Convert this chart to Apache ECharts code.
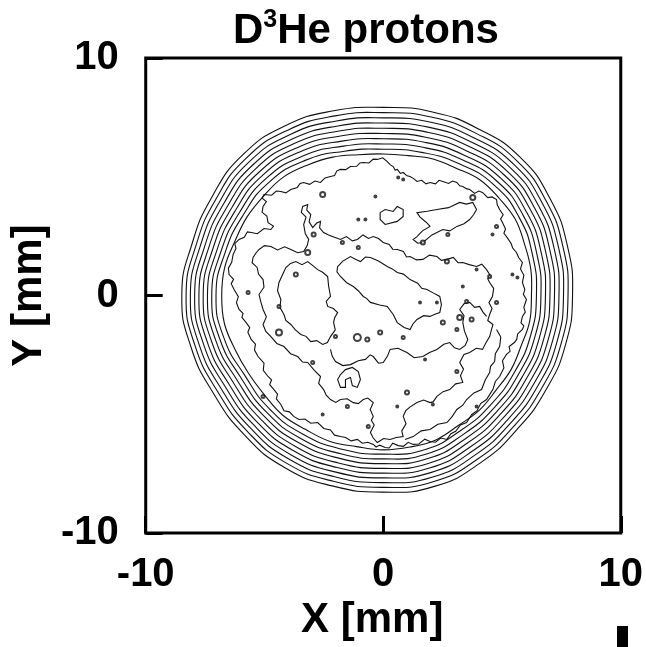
<!DOCTYPE html>
<html><head><meta charset="utf-8">
<script src="https://cdn.jsdelivr.net/npm/echarts@6/dist/echarts.min.js"></script>
<style>html,body{margin:0;padding:0;background:#fff}#c{width:646px;height:647px}</style>
</head><body><div id="c"></div>
<script>
// ---- axis ticks (mm) ----
const xTickValues = [-10, 0, 10];
const yTickValues = [-10, 0, 10];

// ---- outer smooth contour rings: radius (mm) read at these angles (deg) ----
const ringAngles = [0,15,30,45,60,75,90,105,120,135,150,165,180,195,210,225,240,255,270,285,300,315,330,345];
const ring0 = [7.97,8.03,8.12,8.19,8.08,8.00,7.92,8.05,8.25,8.37,8.32,8.34,8.48,8.38,8.25,8.28,8.35,8.30,8.28,8.32,8.15,7.97,7.92,7.95];
const ring1 = [7.78,7.84,7.93,7.99,7.87,7.78,7.70,7.83,8.04,8.17,8.13,8.16,8.30,8.20,8.06,8.09,8.15,8.10,8.08,8.12,7.95,7.78,7.73,7.76];
const ring2 = [7.59,7.65,7.74,7.79,7.66,7.56,7.48,7.61,7.83,7.97,7.94,7.98,8.12,8.02,7.87,7.90,7.95,7.90,7.88,7.92,7.75,7.59,7.54,7.57];
const ring3 = [7.40,7.46,7.55,7.59,7.45,7.34,7.26,7.39,7.62,7.77,7.75,7.80,7.94,7.84,7.68,7.71,7.75,7.70,7.68,7.72,7.55,7.40,7.35,7.38];
const ring4 = [7.21,7.27,7.36,7.39,7.24,7.12,7.04,7.17,7.41,7.57,7.56,7.62,7.76,7.66,7.49,7.52,7.55,7.50,7.48,7.52,7.35,7.21,7.16,7.19];
const ring5 = [7.02,7.08,7.17,7.19,7.03,6.90,6.82,6.95,7.20,7.37,7.37,7.44,7.58,7.48,7.30,7.33,7.35,7.30,7.28,7.32,7.15,7.02,6.97,7.00];
const ring6 = [6.83,6.89,6.98,6.99,6.82,6.68,6.60,6.73,6.99,7.17,7.18,7.26,7.40,7.30,7.11,7.14,7.15,7.10,7.08,7.12,6.95,6.83,6.78,6.81];
const ring7 = [6.64,6.70,6.79,6.79,6.61,6.46,6.38,6.51,6.78,6.97,6.99,7.08,7.22,7.12,6.92,6.95,6.95,6.90,6.88,6.92,6.75,6.64,6.59,6.62];
const ring8 = [6.45,6.51,6.60,6.59,6.40,6.24,6.16,6.29,6.57,6.77,6.80,6.90,7.04,6.94,6.73,6.76,6.75,6.70,6.68,6.72,6.55,6.45,6.40,6.43];

// slightly wavy innermost ring, read every 10 deg
const ring9Angles = [0,10,20,30,40,50,60,70,80,90,100,110,120,130,140,150,160,170,180,190,200,210,220,230,240,250,260,270,280,290,300,310,320,330,340,350];
const ring9 = [6.24,6.31,6.33,6.42,6.37,6.35,6.18,6.12,5.98,5.96,6.02,6.20,6.35,6.52,6.55,6.62,6.65,6.78,6.80,6.79,6.64,6.55,6.52,6.58,6.52,6.54,6.46,6.50,6.48,6.47,6.32,6.30,6.20,6.22,6.18,6.26];

// ---- irregular inner contours, [x, y] in mm ----
const contourA = [[-5.02,4.25],[-4.70,4.22],[-4.50,4.40],[-4.31,4.38],[-4.10,4.32],[-3.89,4.46],[-3.62,4.55],[-3.50,4.72],[-3.35,4.76],[-3.10,4.68],[-2.88,4.82],[-2.64,4.76],[-2.45,4.95],[-2.22,5.01],[-2.05,5.05],[-1.95,5.25],[-1.80,5.31],[-1.58,5.30],[-1.38,5.43],[-1.12,5.44],[-0.98,5.58],[-0.84,5.60],[-0.60,5.58],[-0.42,5.74],[-0.25,5.73],[-0.02,5.80],[0.17,5.64],[0.30,5.50],[0.42,5.43],[0.50,5.28],[0.59,5.31],[0.72,5.14],[0.84,5.18],[1.00,5.04],[1.13,5.01],[1.28,4.92],[1.42,4.80],[1.62,4.85],[1.80,4.70],[1.97,4.76],[2.20,4.70],[2.35,4.85],[2.51,4.80],[2.75,4.72],[2.92,4.82],[3.10,4.76],[3.22,4.62],[3.35,4.59],[3.50,4.50],[3.64,4.46],[3.85,4.30],[4.02,4.40],[4.18,4.34],[4.40,4.12],[4.58,4.15],[4.77,4.04],[4.80,3.82],[4.90,3.62],[5.05,3.40],[4.94,3.22],[5.02,3.07],[5.15,2.80],[5.08,2.62],[5.19,2.48],[5.38,2.20],[5.45,2.00],[5.61,1.81],[5.70,1.60],[5.86,1.39],[5.78,1.12],[5.92,0.85],[5.86,0.55],[5.96,0.25],[5.90,0.05],[6.03,-0.17],[5.92,-0.50],[5.98,-0.70],[5.86,-0.88],[5.80,-1.15],[5.92,-1.28],[5.86,-1.43],[5.66,-1.62],[5.62,-1.85],[5.52,-1.98],[5.30,-2.15],[5.34,-2.35],[5.19,-2.48],[5.02,-2.75],[5.08,-3.05],[4.90,-3.41],[4.72,-3.62],[4.62,-3.95],[4.35,-4.38],[4.10,-4.55],[3.95,-4.85],[3.72,-5.02],[3.51,-5.35],[3.25,-5.45],[3.05,-5.72],[2.85,-5.82],[2.68,-6.06],[2.42,-6.00],[2.20,-6.18],[1.97,-6.15],[1.75,-6.05],[1.50,-6.25],[1.26,-6.27],[1.05,-6.18],[0.85,-6.35],[0.63,-6.32],[0.40,-6.22],[0.25,-6.42],[0.08,-6.40],[-0.15,-6.30],[-0.30,-6.38],[-0.42,-6.27],[-0.65,-6.18],[-0.88,-6.22],[-1.09,-6.06],[-1.35,-6.12],[-1.58,-5.98],[-1.80,-5.94],[-2.05,-5.88],[-2.22,-5.66],[-2.50,-5.60],[-2.76,-5.35],[-3.05,-5.38],[-3.30,-5.20],[-3.55,-5.22],[-3.77,-5.09],[-3.95,-4.90],[-4.18,-4.85],[-4.31,-4.59],[-4.50,-4.35],[-4.45,-4.15],[-4.60,-3.96],[-4.78,-3.75],[-4.70,-3.55],[-4.85,-3.41],[-5.05,-3.15],[-5.02,-2.85],[-5.27,-2.57],[-5.42,-2.30],[-5.38,-2.05],[-5.56,-1.85],[-5.70,-1.55],[-5.62,-1.35],[-5.77,-1.14],[-5.95,-0.92],[-5.90,-0.75],[-6.07,-0.59],[-6.18,-0.30],[-6.10,-0.05],[-6.28,0.25],[-6.40,0.50],[-6.30,0.68],[-6.49,0.88],[-6.52,1.15],[-6.38,1.40],[-6.32,1.73],[-6.20,1.98],[-6.25,2.18],[-6.07,2.36],[-5.85,2.45],[-5.72,2.68],[-5.56,2.65],[-5.30,2.60],[-5.02,2.82],[-4.73,2.78],[-4.62,2.92],[-4.85,3.07],[-4.90,3.35],[-5.10,3.50],[-5.06,3.75],[-4.92,3.95],[-5.10,4.10]];
const contourB = [[-5.23,1.94],[-5.00,2.10],[-4.73,2.06],[-4.45,1.92],[-4.15,2.05],[-3.89,1.94],[-3.60,1.80],[-3.35,1.85],[-3.20,2.10],[-3.14,2.36],[-3.28,2.60],[-3.35,2.99],[-3.25,3.30],[-3.45,3.50],[-3.39,3.75],[-3.18,3.83],[-3.22,3.60],[-3.05,3.41],[-3.12,3.10],[-2.97,2.86],[-2.80,3.05],[-2.64,3.12],[-2.68,2.85],[-2.51,2.65],[-2.30,2.55],[-2.05,2.45],[-1.80,2.36],[-1.55,2.48],[-1.30,2.30],[-1.09,2.36],[-0.85,2.55],[-0.62,2.40],[-0.42,2.48],[-0.20,2.40],[0.00,2.23],[0.25,2.15],[0.40,1.95],[0.59,1.94],[0.85,1.85],[0.98,1.62],[1.13,1.64],[1.40,1.50],[1.67,1.52],[1.95,1.70],[2.26,1.64],[2.45,1.48],[2.68,1.52],[2.95,1.60],[3.15,1.38],[3.35,1.39],[3.62,1.30],[3.93,1.22],[4.15,1.32],[4.35,1.09],[4.50,0.85],[4.40,0.70],[4.48,0.55],[4.65,0.30],[4.60,-0.04],[4.45,-0.30],[4.58,-0.55],[4.48,-0.80],[4.40,-1.05],[4.62,-1.22],[4.56,-1.43],[4.48,-1.73],[4.32,-2.00],[4.18,-2.27],[3.92,-2.22],[3.64,-2.40],[3.40,-2.48],[3.22,-2.82],[3.38,-3.10],[3.25,-3.38],[3.35,-3.66],[3.05,-3.72],[2.80,-3.96],[2.52,-4.05],[2.26,-4.25],[2.10,-4.48],[1.97,-4.51],[1.70,-4.40],[1.42,-4.51],[1.12,-4.70],[0.95,-4.85],[0.84,-5.09],[0.96,-5.40],[0.78,-5.70],[0.84,-5.94],[0.55,-5.98],[0.29,-6.06],[0.02,-6.02],[-0.25,-6.19],[-0.42,-6.00],[-0.54,-5.77],[-0.38,-5.45],[-0.50,-5.25],[-0.42,-5.09],[-0.55,-4.80],[-0.42,-4.51],[-0.65,-4.32],[-0.84,-4.38],[-1.05,-4.55],[-1.26,-4.51],[-1.52,-4.35],[-1.80,-4.38],[-2.00,-4.50],[-2.22,-4.38],[-2.40,-4.20],[-2.51,-3.96],[-2.72,-3.70],[-2.64,-3.41],[-2.90,-3.15],[-3.18,-2.82],[-3.40,-2.80],[-3.60,-2.57],[-3.90,-2.45],[-4.18,-2.15],[-4.48,-2.02],[-4.73,-1.73],[-4.95,-1.50],[-5.06,-1.22],[-4.92,-0.90],[-5.06,-0.59],[-5.15,-0.28],[-5.23,0.04],[-5.02,0.35],[-5.06,0.67],[-5.25,0.90],[-5.31,1.18],[-5.52,1.38],[-5.48,1.60],[-5.35,1.80]];
const contourLeftLobe = [[-4.31,-0.17],[-4.45,0.20],[-4.39,0.55],[-4.25,0.85],[-4.10,1.18],[-3.90,1.35],[-3.68,1.43],[-3.42,1.30],[-3.18,1.43],[-2.95,1.25],[-2.76,1.09],[-2.55,0.98],[-2.34,0.80],[-2.30,0.40],[-2.22,-0.04],[-2.40,-0.25],[-2.34,-0.46],[-2.10,-0.55],[-1.92,-0.72],[-2.05,-0.95],[-2.09,-1.14],[-2.02,-1.45],[-2.22,-1.73],[-2.35,-1.98],[-2.55,-2.06],[-2.80,-1.90],[-3.05,-1.94],[-3.25,-1.72],[-3.47,-1.64],[-3.70,-1.45],[-3.89,-1.22],[-4.10,-1.05],[-4.18,-0.80],[-4.35,-0.50]];
const contourLowerRidge = [[-2.22,-2.27],[-2.15,-2.55],[-2.01,-2.78],[-1.70,-2.95],[-1.38,-2.91],[-1.05,-2.75],[-0.75,-2.69],[-0.55,-2.50],[-0.42,-2.57],[-0.20,-2.85],[0.00,-2.82],[0.18,-2.55],[0.29,-2.27],[0.62,-2.22],[1.00,-2.40],[1.30,-2.62],[1.67,-2.57],[1.95,-2.40],[2.26,-2.27],[2.55,-2.05],[2.80,-1.98],[3.00,-2.20],[3.22,-2.27],[3.45,-2.10],[3.56,-1.85],[3.42,-1.50],[3.35,-1.14],[3.40,-0.85],[3.22,-0.59],[3.40,-0.35],[3.64,-0.29],[3.85,-0.50],[4.06,-0.46],[4.20,-0.70],[4.35,-0.88]];
const contourLowerRight = [[4.77,-1.43],[4.95,-1.75],[4.90,-2.15],[4.72,-2.45],[4.69,-2.78],[4.52,-2.98],[4.48,-3.24],[4.30,-3.55],[4.14,-3.96],[3.82,-4.10],[3.51,-4.38],[3.35,-4.62],[3.10,-4.80],[2.90,-5.10],[2.68,-5.35],[2.30,-5.42],[1.97,-5.64],[1.60,-5.70],[1.26,-5.94],[0.92,-6.06]];
const contourCentral = [[-1.92,1.22],[-1.70,1.45],[-1.38,1.64],[-1.15,1.52],[-0.96,1.43],[-0.75,1.62],[-0.54,1.60],[-0.20,1.45],[0.17,1.22],[0.38,1.12],[0.59,0.97],[0.85,0.90],[1.13,0.67],[1.45,0.52],[1.62,0.30],[1.84,0.25],[2.12,0.10],[2.38,-0.04],[2.45,-0.38],[2.38,-0.72],[2.15,-0.80],[1.97,-0.88],[1.70,-0.85],[1.42,-1.01],[1.25,-1.20],[1.13,-1.43],[0.88,-1.35],[0.59,-1.14],[0.42,-0.80],[0.17,-0.46],[-0.15,-0.40],[-0.54,-0.29],[-0.70,-0.12],[-0.84,-0.04],[-1.05,0.20],[-1.26,0.38],[-1.55,0.55],[-1.80,0.80],[-1.95,1.00]];
const contourTopBox = [[-0.13,3.49],[0.08,3.62],[0.42,3.54],[0.59,3.75],[0.84,3.62],[0.84,3.33],[0.59,3.12],[0.08,2.99],[-0.13,3.20]];
const contourHook = [[-1.80,-3.33],[-1.59,-3.12],[-1.30,-3.03],[-1.05,-3.20],[-0.96,-3.54],[-1.09,-3.87],[-1.30,-3.79],[-1.38,-3.45],[-1.59,-3.54],[-1.59,-3.87],[-1.80,-3.87],[-1.92,-3.54]];
const contourTopRight = [[1.42,3.49],[1.55,3.30],[1.67,3.20],[1.85,3.05],[1.97,2.91],[1.65,2.72],[1.42,2.48],[1.26,2.36],[1.45,2.20],[1.67,2.23],[2.05,2.55],[2.51,2.78],[2.80,2.72],[3.10,2.91],[3.40,3.02],[3.64,3.20],[3.80,3.40],[3.93,3.62],[3.77,3.92],[3.50,3.85],[3.22,3.92],[2.75,3.70],[2.26,3.62],[1.85,3.55]];

// ---- tiny closed islands: [x, y, size(px)] ----
const islands = [[-2.55,4.25,5],[-0.33,4.17,2],[-1.05,3.20,2],[-0.75,3.20,2],[-2.93,2.57,4],[-1.72,2.23,3],[-1.05,2.02,3],[-3.18,1.81,5],[-3.68,0.88,4],[-5.69,0.13,3],[-4.39,-0.46,3],[0.63,4.97,2],[0.84,4.88,2],[3.77,4.13,5],[4.77,2.91,3],[4.60,2.57,2],[2.72,2.57,3],[1.67,2.23,4],[2.68,1.43,4],[3.93,1.09,2],[3.35,0.38,2],[4.48,0.80,3],[5.44,0.88,2],[5.65,0.76,2],[1.55,-0.29,2],[2.26,-0.29,2],[3.51,-0.25,3],[4.77,-0.29,3],[-4.39,-1.56,6],[-1.09,-1.77,7],[-0.67,-1.85,4],[-0.13,-1.56,4],[-2.01,-1.73,3],[-2.97,-2.82,3],[-5.06,-4.25,3],[-2.55,-5.01,2],[-1.51,-4.67,3],[-0.63,-5.52,3],[2.51,-1.14,4],[3.10,-1.43,3],[0.84,-1.77,3],[1.76,-2.69,2],[3.10,-3.20,3],[1.00,-4.08,4],[0.59,-4.67,2],[2.09,-4.59,2],[3.93,-4.67,2],[3.22,-0.93,5],[3.72,-1.01,4]];

const FONT = 'Liberation Sans, Arial, Helvetica, sans-serif';

function polarToXY(radii, angles) {
  return radii.map(function (r, i) {
    const a = angles[i] * Math.PI / 180;
    return [r * Math.cos(a), r * Math.sin(a)];
  });
}

function contourSeries(name, pts, closed, smooth) {
  return {
    name: name,
    type: 'custom',
    coordinateSystem: 'cartesian2d',
    data: pts,
    encode: { x: 0, y: 1 },
    silent: true,
    animation: false,
    renderItem: function (params, api) {
      if (params.dataIndexInside !== 0) return null;
      const n = params.dataInsideLength;
      const points = [];
      for (let i = 0; i < n; i++) {
        points.push(api.coord([api.value(0, i), api.value(1, i)]));
      }
      return {
        type: closed ? 'polygon' : 'polyline',
        shape: { points: points, smooth: smooth },
        style: { fill: null, stroke: '#111', lineWidth: 1.1 }
      };
    }
  };
}

const rings = [ring0, ring1, ring2, ring3, ring4, ring5, ring6, ring7, ring8];
const series = [];
rings.forEach(function (r, k) {
  series.push(contourSeries('ring' + k, polarToXY(r, ringAngles), true, 0.5));
});
series.push(contourSeries('ring9', polarToXY(ring9, ring9Angles), true, 0.4));
series.push(contourSeries('A', contourA, true, 0));
series.push(contourSeries('B', contourB, true, 0));
series.push(contourSeries('leftLobe', contourLeftLobe, true, 0));
series.push(contourSeries('lowerRidge', contourLowerRidge, false, 0));
series.push(contourSeries('lowerRight', contourLowerRight, false, 0));
series.push(contourSeries('central', contourCentral, true, 0));
series.push(contourSeries('topBox', contourTopBox, true, 0));
series.push(contourSeries('hook', contourHook, true, 0));
series.push(contourSeries('topRight', contourTopRight, true, 0));
series.push({
  name: 'islands', type: 'scatter', data: islands, animation: false, silent: true,
  symbol: 'emptyCircle',
  symbolSize: function (v) { return v[2]; },
  itemStyle: { color: '#111', borderColor: '#111', borderWidth: 1 }
});

const chart = echarts.init(document.getElementById('c'), null, { renderer: 'canvas' });
chart.setOption({
  backgroundColor: '#fff',
  animation: false,
  title: {
    text: '{a|D}{s|3}{a|He protons}',
    left: 228, top: 3,
    textStyle: {
      rich: {
        a: { fontSize: 42, fontWeight: 'bold', fontFamily: FONT, color: '#000', lineHeight: 46 },
        s: { fontSize: 25, fontWeight: 'bold', fontFamily: FONT, color: '#000', lineHeight: 25, verticalAlign: 'top' }
      }
    }
  },
  grid: { left: 144, right: 25, top: 58, bottom: 114, show: true, borderColor: '#000', borderWidth: 3, backgroundColor: 'transparent' },
  xAxis: {
    type: 'value', min: xTickValues[0], max: xTickValues[xTickValues.length - 1], interval: xTickValues[1] - xTickValues[0],
    axisLine: { show: false, onZero: false }, splitLine: { show: false },
    axisTick: { show: true, inside: true, length: 17, lineStyle: { color: '#000', width: 3 } },
    axisLabel: { fontSize: 40, fontWeight: 'bold', fontFamily: FONT, color: '#000', margin: 22 },
    name: 'X [mm]', nameLocation: 'middle', nameGap: 64,
    nameTextStyle: { fontSize: 42, fontWeight: 'bold', fontFamily: FONT, color: '#000', padding: [0, 22, 0, 0] }
  },
  yAxis: {
    type: 'value', min: yTickValues[0], max: yTickValues[yTickValues.length - 1], interval: yTickValues[1] - yTickValues[0],
    axisLine: { show: false, onZero: false }, splitLine: { show: false },
    axisTick: { show: true, inside: true, length: 17, lineStyle: { color: '#000', width: 3 } },
    axisLabel: { fontSize: 40, fontWeight: 'bold', fontFamily: FONT, color: '#000', margin: 27 },
    name: 'Y [mm]', nameLocation: 'middle', nameGap: 82, nameRotate: 90,
    nameTextStyle: { fontSize: 42, fontWeight: 'bold', fontFamily: FONT, color: '#000' }
  },
  graphic: [{ type: 'rect', right: 18, bottom: 0, shape: { width: 11, height: 21 }, style: { fill: '#000' } }],
  series: series
});
</script></body></html>
